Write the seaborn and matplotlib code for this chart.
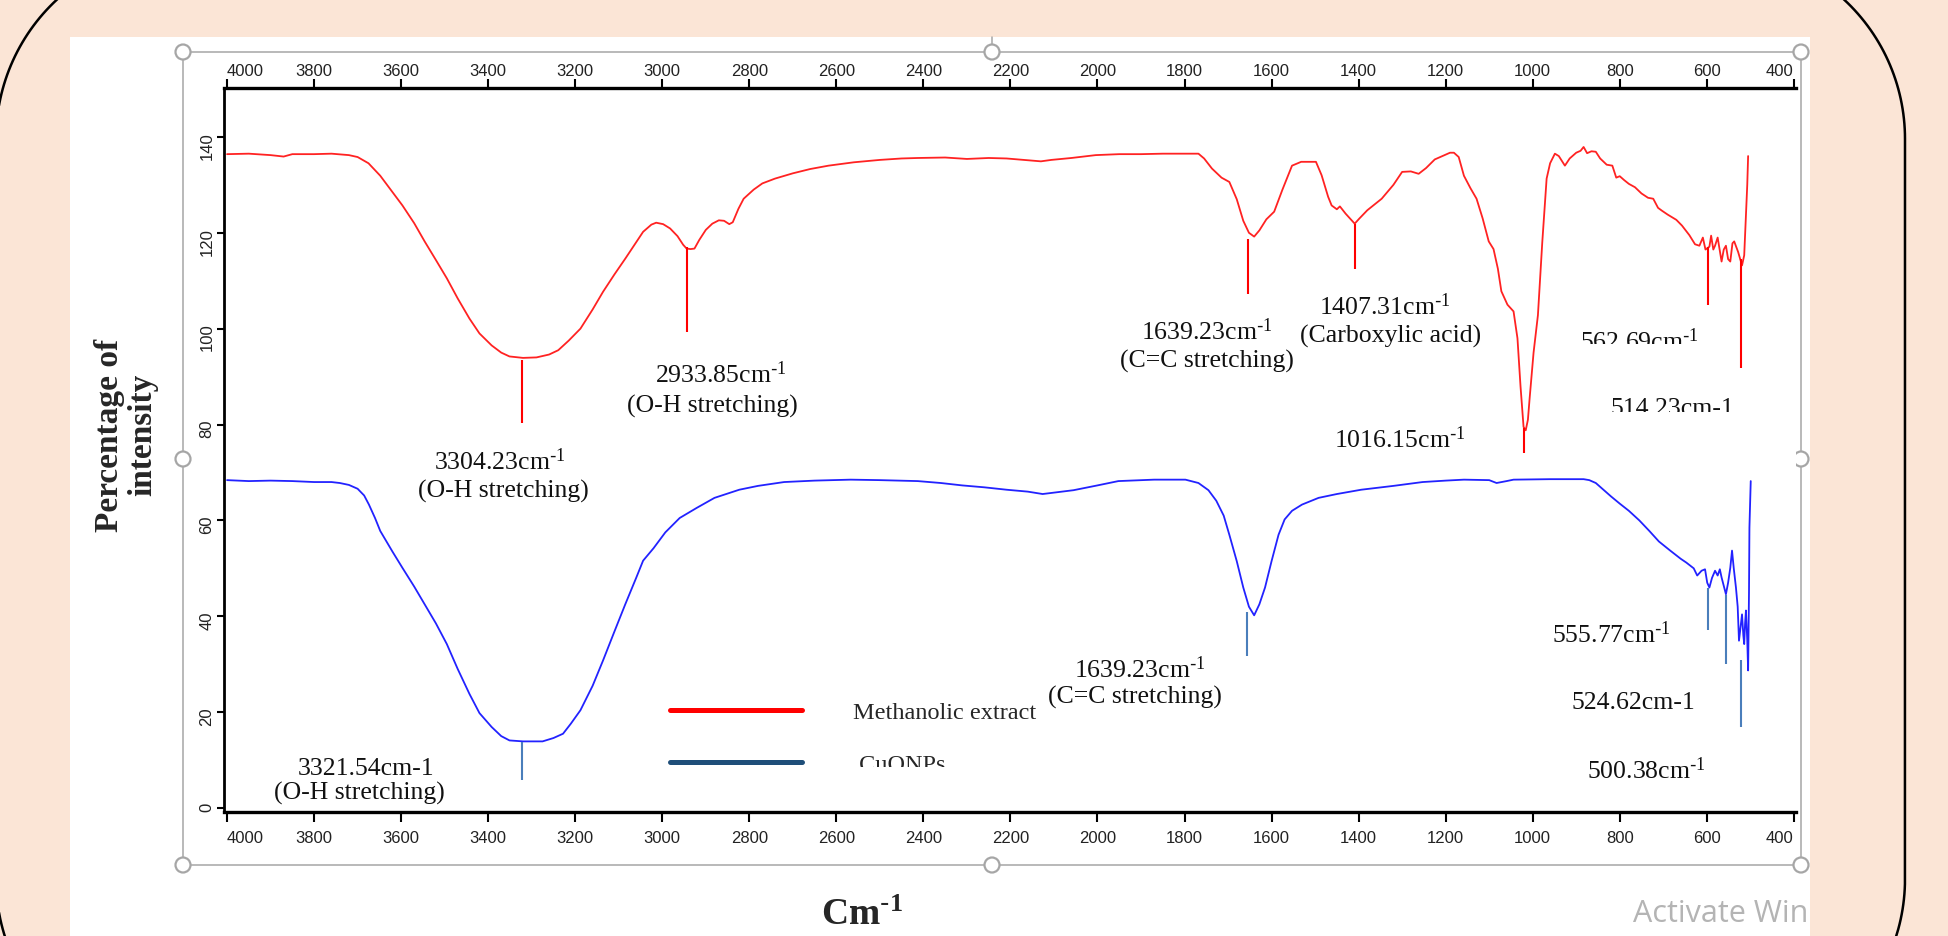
import numpy as np
import pandas as pd
import matplotlib
matplotlib.use("Agg")
import matplotlib.pyplot as plt
import seaborn as sns
from matplotlib.lines import Line2D
from matplotlib.patches import Rectangle, Circle
from matplotlib.transforms import Bbox

# Espectro FTIR: numero de onda (cm-1) y % de intensidad
red_wn = [4000, 3950, 3900, 3870, 3850, 3800, 3760, 3720, 3700, 3675, 3648, 3620, 3597, 3570,
          3546, 3520, 3495, 3470, 3443, 3420, 3392, 3370, 3351, 3320, 3289, 3260, 3239, 3215,
          3188, 3160, 3136, 3110, 3085, 3060, 3044, 3025, 3014, 2998, 2982, 2965, 2952, 2944,
          2935, 2926, 2915, 2900, 2885, 2870, 2858, 2846, 2838, 2825, 2813, 2790, 2770, 2741,
          2700, 2660, 2618, 2560, 2500, 2450, 2413, 2350, 2300, 2250, 2209, 2170, 2130, 2106,
          2060, 2004, 1950, 1900, 1850, 1800, 1768, 1755, 1737, 1715, 1697, 1680, 1665, 1652,
          1640, 1628, 1612, 1594, 1575, 1553, 1532, 1498, 1485, 1470, 1462, 1450, 1443, 1430,
          1418, 1409, 1398, 1380, 1347, 1320, 1300, 1280, 1262, 1245, 1225, 1205, 1190, 1181,
          1170, 1158, 1143, 1129, 1115, 1101, 1090, 1080, 1072, 1058, 1044, 1035, 1028, 1021,
          1016, 1011, 1007, 998, 988, 978, 968, 960, 949, 940, 926, 915, 900, 890, 883, 875,
          865, 855, 845, 830, 817, 808, 800, 790, 779, 765, 750, 735, 723, 712, 703, 690, 670,
          657, 640, 627, 617, 609, 603, 594, 590, 585, 581, 575, 566, 561, 556, 551, 546, 541,
          537, 528, 519, 514, 510, 507, 505]
red_val = [136.4, 136.5, 136.2, 135.9, 136.4, 136.4, 136.5, 136.2, 135.8, 134.5, 131.9, 128.5,
           125.7, 122.0, 118.2, 114.3, 110.5, 106.3, 102.1, 99.0, 96.5, 95.0, 94.2, 93.9, 94.0,
           94.6, 95.5, 97.5, 100.0, 104.0, 107.7, 111.3, 114.6, 118.0, 120.2, 121.7, 122.1,
           121.8, 120.9, 119.3, 117.5, 116.7, 116.6, 116.7, 118.5, 120.6, 121.9, 122.6, 122.5,
           121.8, 122.2, 125.0, 127.1, 129.0, 130.3, 131.3, 132.4, 133.3, 134.0, 134.7, 135.2,
           135.5, 135.6, 135.7, 135.4, 135.6, 135.5, 135.2, 134.9, 135.2, 135.6, 136.2, 136.4,
           136.4, 136.5, 136.5, 136.5, 135.5, 133.4, 131.5, 130.6, 127.0, 122.5, 120.0, 119.2,
           120.5, 122.8, 124.4, 129.0, 134.0, 134.8, 134.8, 132.0, 127.5, 125.7, 124.9, 125.5,
           124.0, 122.8, 121.9, 123.0, 124.7, 127.1, 130.0, 132.7, 132.8, 132.3, 133.5, 135.3,
           136.1, 136.7, 136.7, 135.8, 131.9, 129.3, 127.1, 123.0, 118.2, 116.6, 112.5, 107.8,
           105.0, 103.6, 98.0, 88.0, 79.5, 78.8, 81.0, 85.5, 95.0, 102.8, 118.0, 131.3, 134.5,
           136.5, 136.0, 134.0, 135.5, 136.7, 137.1, 137.9, 136.6, 137.0, 136.9, 135.5, 134.2,
           134.0, 131.5, 131.8, 131.0, 130.2, 129.5, 128.2, 127.3, 127.1, 125.2, 124.6, 123.8,
           122.7, 121.5, 119.5, 117.6, 117.3, 119.0, 116.5, 117.1, 119.4, 116.5, 117.3, 119.0,
           114.0, 116.5, 117.3, 114.5, 114.0, 117.8, 118.2, 116.0, 113.2, 115.3, 123.6, 130.0,
           136.0]

blue_wn = [4000, 3950, 3900, 3850, 3800, 3760, 3741, 3720, 3700, 3685, 3674, 3660, 3648, 3620,
           3597, 3570, 3546, 3520, 3495, 3470, 3443, 3420, 3392, 3370, 3351, 3320, 3275, 3250,
           3228, 3210, 3188, 3160, 3136, 3110, 3085, 3060, 3044, 3020, 2993, 2960, 2921, 2880,
           2850, 2823, 2780, 2720, 2650, 2567, 2500, 2413, 2360, 2311, 2260, 2209, 2160, 2126,
           2100, 2055, 2000, 1952, 1870, 1798, 1768, 1745, 1727, 1710, 1697, 1680, 1665, 1652,
           1640, 1628, 1615, 1600, 1584, 1570, 1553, 1530, 1492, 1450, 1394, 1320, 1253, 1200,
           1158, 1100, 1083, 1060, 1044, 960, 883, 870, 855, 820, 800, 779, 755, 732, 710, 684,
           660, 647, 630, 622, 612, 604, 599, 594, 588, 581, 575, 570, 566, 560, 556, 551, 546,
           542, 538, 533, 529, 526, 522, 519, 516, 514, 512, 510, 507, 505, 503, 502, 499]
blue_val = [68.4, 68.2, 68.3, 68.2, 68.0, 68.0, 67.8, 67.4, 66.6, 65.2, 63.3, 60.5, 57.8, 53.5,
            50.1, 46.2, 42.5, 38.5, 34.2, 29.0, 23.8, 19.8, 16.9, 15.0, 14.1, 13.9, 13.9, 14.6,
            15.5, 17.6, 20.4, 25.5, 30.8, 36.8, 42.5, 48.0, 51.6, 54.2, 57.5, 60.5, 62.6, 64.7,
            65.6, 66.4, 67.2, 68.0, 68.3, 68.5, 68.4, 68.2, 67.8, 67.3, 66.9, 66.4, 66.0, 65.5,
            65.8, 66.3, 67.3, 68.2, 68.5, 68.5, 67.8, 66.3, 64.1, 61.0, 57.0, 51.5, 46.0, 42.0,
            40.2, 42.5, 46.0, 51.5, 57.0, 60.2, 62.0, 63.3, 64.7, 65.5, 66.4, 67.2, 68.0, 68.3,
            68.5, 68.4, 67.8, 68.2, 68.5, 68.6, 68.6, 68.4, 67.8, 65.0, 63.5, 62.0, 60.0, 57.8,
            55.6, 53.7, 52.0, 51.2, 50.0, 48.5, 49.5, 49.8, 47.0, 46.0, 48.0, 49.5, 48.5, 49.8,
            48.1, 46.0, 44.6, 47.0, 50.1, 53.7, 50.0, 46.0, 42.0, 34.9, 38.0, 40.4, 36.0, 34.2,
            38.5, 41.2, 35.0, 28.7, 45.0, 58.5, 68.2]

# marcas verticales de los picos
red_peak_wn = [3323, 2944, 1654, 1409, 1021, 597, 521]
red_peak_top = [93.4, 117.1, 118.8, 121.9, 79.3, 117.0, 114.6]
red_peak_bot = [80.3, 99.4, 107.3, 112.5, 74.0, 104.9, 91.7]
blue_peak_wn = [3323, 1656, 597, 556, 521]
blue_peak_top = [13.7, 40.8, 46.0, 44.5, 30.8]
blue_peak_bot = [5.8, 31.8, 37.2, 30.0, 17.0]

x_ticks = list(range(4000, 399, -200))
y_ticks = list(range(0, 141, 20))
series_names = ['Methanolic extract', 'CuONPs']

sup = r"$^{\text{-}1}$"
# etiquetas de picos: texto, x, y (datos), corte inferior en px
etiquetas = [
    ("3304.23cm" + sup, 3373, 70.7, None),
    ("(O-H stretching)", 3366, 64.9, None),
    ("2933.85cm" + sup, 2865, 88.9, None),
    ("(O-H stretching)", 2886, 82.8, None),
    ("1639.23cm" + sup, 1749, 97.9, None),
    ("(C=C stretching)", 1749, 92.0, None),
    ("1407.31cm" + sup, 1340, 103.1, None),
    ("(Carboxylic acid)", 1326, 97.2, None),
    ("1016.15cm" + sup, 1305, 75.3, None),
    ("562.69cm" + sup, 754, 95.8, 345),
    ("514.23cm-1", 678, 82.2, 413),
    ("1639.23cm" + sup, 1903, 27.3, None),
    ("(C=C stretching)", 1914, 22.1, None),
    ("555.77cm" + sup, 818, 34.6, None),
    ("524.62cm-1", 768, 20.9, None),
    ("500.38cm" + sup, 738, 6.3, None),
    ("3321.54cm-1", 3681, 7.1, None),
    ("(O-H stretching)", 3697, 1.9, None),
]

sns.set_theme(style="ticks")
plt.rcParams['font.family'] = ['Liberation Serif', 'DejaVu Serif']
plt.rcParams['mathtext.default'] = 'regular'

W, H = 1948, 937
fig = plt.figure(figsize=(W / 100, H / 100), dpi=100, facecolor='#FBE5D6')

# fondo tipo diapositiva (coordenadas en pixeles)
bg = fig.add_axes([0, 0, 1, 1], zorder=0)
bg.set_xlim(0, W)
bg.set_ylim(H, 0)
bg.axis('off')
bg.add_patch(Rectangle((70, 38), 1740, H - 30, facecolor='white', edgecolor='none'))

# marco redondeado negro de la diapositiva
x0, y0, x1, y1, r = -4, -50, 1905, 1070, 190
ang = np.linspace(0, np.pi / 2, 60)
bx = np.concatenate([x1 - r + r * np.sin(ang), x1 - r + r * np.cos(ang),
                     x0 + r - r * np.sin(ang), x0 + r - r * np.cos(ang)])
by = np.concatenate([y0 + r - r * np.cos(ang), y1 - r + r * np.sin(ang),
                     y1 - r + r * np.cos(ang), y0 + r - r * np.sin(ang)])
bg.plot(np.append(bx, bx[0]), np.append(by, by[0]), color='black', lw=1.8)

bg.add_patch(Rectangle((183, 53), 1618, 813, fill=False, edgecolor='#A6A6A6', linewidth=1.1))
bg.plot([992, 992], [38, 46], color='#A6A6A6', lw=1.1)
for hx in (183, 992, 1801):
    for hy in (53, 460, 866):
        if hx == 992 and hy == 460:
            continue
        bg.add_patch(Circle((hx, hy), 7.5, facecolor='white', edgecolor='#A6A6A6', linewidth=1.6,
                            zorder=3))
wm = bg.text(1633, 922, 'Activate Windows', color='#B4B4B4', fontsize=22,
             fontfamily=['Open Sans', 'DejaVu Sans'], ha='left', va='baseline')
wm.set_clip_on(True)
wm.set_clip_box(Bbox.from_extents(0, 0, 1808, H))

# grafico principal
ax = fig.add_axes([224 / W, (H - 813) / H, (1796 - 224) / W, (813 - 89) / H], zorder=1)
ax.set_facecolor('white')

df = pd.concat([
    pd.DataFrame({'wn': red_wn, 'val': red_val, 'muestra': series_names[0]}),
    pd.DataFrame({'wn': blue_wn, 'val': blue_val, 'muestra': series_names[1]}),
])
sns.lineplot(data=df, x='wn', y='val', hue='muestra',
             palette={series_names[0]: '#FF2222', series_names[1]: '#2222FF'},
             estimator=None, legend=False, linewidth=1.3, ax=ax)

ax.vlines(red_peak_wn, red_peak_bot, red_peak_top, colors='#FF0000', lw=1.5, zorder=3)
ax.vlines(blue_peak_wn, blue_peak_bot, blue_peak_top, colors='#4A7EBB', lw=1.5, zorder=3)

ax.set_xlim(4007, 395)
ax.set_ylim(-0.83, 150.2)

for s in ('top', 'right'):
    ax.spines[s].set_visible(False)
ax.spines['left'].set_linewidth(2.0)
ax.spines['bottom'].set_linewidth(2.4)
for s in ('left', 'bottom'):
    ax.spines[s].set_color('black')

ax.set_xticks(x_ticks)
ax.set_xticklabels([str(t) for t in x_ticks])
ax.set_yticks(y_ticks)
ax.set_yticklabels([str(t) for t in y_ticks])
ax.tick_params(axis='x', direction='out', length=7.2, width=1.5, color='black', pad=6,
               labelsize=12, labelcolor='#222222', labelfontfamily='Liberation Sans',
               bottom=True, top=False)
ax.tick_params(axis='y', direction='out', length=5, width=1.5, color='black', pad=2,
               labelsize=12, labelcolor='#222222', labelfontfamily='Liberation Sans',
               labelrotation=90, left=True)

secax = ax.secondary_xaxis('top')
secax.set_xticks(x_ticks)
secax.set_xticklabels([str(t) for t in x_ticks])
secax.tick_params(direction='out', length=6.5, width=1.5, color='black', pad=1,
                  labelsize=12, labelcolor='#222222', labelfontfamily='Liberation Sans')
secax.spines['top'].set_linewidth(2.4)
secax.spines['top'].set_color('black')

for axis_obj in (ax.xaxis, secax.xaxis):
    ticks = axis_obj.get_major_ticks()
    ticks[0].label1.set_ha('left')
    ticks[0].label2.set_ha('left')
    ticks[-1].label1.set_ha('right')
    ticks[-1].label2.set_ha('right')

ax.set_xlabel('Cm' + sup, fontsize=27, fontweight='bold', ha='center', va='baseline')
ax.xaxis.set_label_coords((862 - 224) / (1796 - 224), (813 - 925) / (813 - 89))
ax.set_ylabel('Percentage of\nintensity', fontsize=24, fontweight='bold',
              ha='center', va='center', multialignment='center', linespacing=1.1)
ax.yaxis.set_label_coords((126 - 224) / (1796 - 224), (813 - 435) / (813 - 89))

for txt, xw, yv, corte in etiquetas:
    t = ax.text(xw, yv, txt, fontsize=18.5, color='#111111', ha='center', va='baseline')
    if corte is not None:
        t.set_clip_on(True)
        t.set_clip_box(Bbox.from_extents(0, H - corte, W, H))
        t.set_clip_path(None)

handles = [Line2D([], [], color='#FF0000', lw=3.6), Line2D([], [], color='#1F4E79', lw=3.6)]
leg = ax.legend(handles, [series_names[0], ' ' + series_names[1]], loc='upper left',
                bbox_to_anchor=(670, 702), bbox_transform=bg.transData, frameon=False,
                fontsize=17.5, handlelength=5.43, handletextpad=2.1, labelspacing=1.25,
                borderpad=0, borderaxespad=0)
ct = leg.get_texts()[1]
ct.set_clip_on(True)
ct.set_clip_box(Bbox.from_extents(0, H - 768, W, H))

plt.savefig('out.png', dpi=100, facecolor=fig.get_facecolor())
plt.close()
